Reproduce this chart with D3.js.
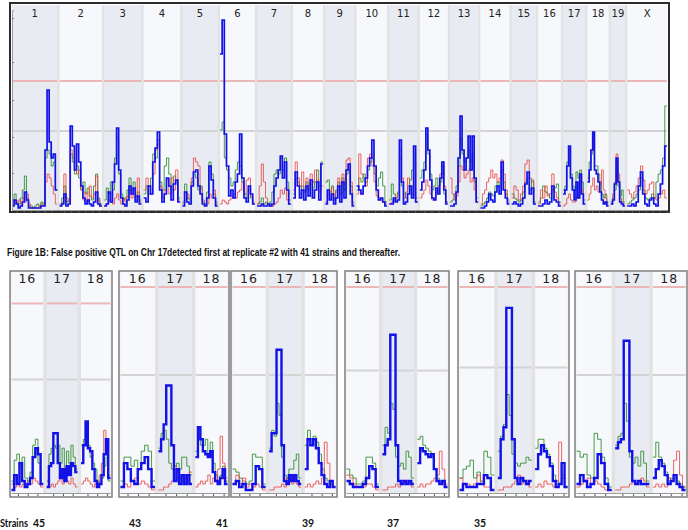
<!DOCTYPE html>
<html>
<head>
<meta charset="utf-8">
<script src="https://cdn.jsdelivr.net/npm/d3@7"></script>
<style>
  body { margin: 0; background: #fff; }
  svg { display: block; }
</style>
</head>
<body>
<script>
// ---- data ----
const chroms = ['1','2','3','4','5','6','7','8','9','10','11','12','13','14','15','16','17','18','19','X'];
const chromMb = [195,182,160,157,152,150,145,129,125,131,122,120,121,125,104,98,95,91,61,171];
const tickMb = [20,50,80,110,140,170];

// genome scan thresholds (LOD) and left axis ticks
const topSug = 3.95, topSig = 6.45;
const topYTicks = [1.85,3.65,5.5,7.4,9.6];

// LOD values, one step per bin, bins spread evenly along each chromosome
const topBlue = [
  [0.2,0.5,0.3,0.1,0.2,0.4,0.9,0.5,0.1,0.1,0.1,0.1,0.1,0.1,0.2,0.2,3.0,6.0,3.4,2.6,2.8,1.0],
  [0.2,0.3,0.8,0.2,0.3,4.2,3.2,2.0,3.3,2.4,1.2,0.6,0.3,0.5,0.3,0.2,0.4,0.9,0.3,0.2],
  [0.2,0.3,0.9,0.4,1.4,2.3,4.1,2.0,0.6,0.3,0.2,0.5,1.2,0.8,1.1,0.4,0.7,0.3],
  [0.6,0.4,1.2,0.8,2.4,3.1,3.9,1.0,0.4,0.8,1.6,1.2,0.5,1.3,1.5,0.4],
  [0.2,0.9,0.4,0.3,1.2,1.9,2.0,1.2,0.8,0.3,0.2,0.6,2.2,1.5,0.6,0.2],
  [7.8,9.5,3.8,2.2,0.7,1.0,0.6,1.4,1.8,3.8,1.6,0.6,0.4,1.2,0.8,0.3],
  [0.2,0.2,0.3,0.2,0.2,0.3,0.2,0.3,1.2,1.6,2.0,2.7,1.6,2.4,1.0,0.3],
  [0.6,1.9,1.2,0.6,1.0,0.5,1.2,0.7,1.5,0.6,1.0,1.4,0.5,2.3],
  [0.3,1.0,0.5,0.8,0.3,0.6,1.2,0.4,1.4,0.6,2.0,2.3,0.8,0.2],
  [1.2,1.0,0.8,1.2,1.6,2.2,2.6,3.5,2.2,1.0,0.5,0.6,0.4,0.2],
  [0.3,0.3,0.6,0.4,0.5,3.5,1.4,0.3,0.4,0.8,1.2,0.6,3.2,0.4],
  [1.0,1.4,2.0,4.1,3.0,1.5,0.6,0.5,1.1,0.8,1.6,2.4,1.0,0.3],
  [0.2,0.2,0.3,0.9,2.6,4.7,3.0,2.0,2.6,3.7,2.0,3.7,1.6,0.4],
  [0.1,0.1,0.2,0.4,0.8,0.5,0.4,0.9,1.2,0.8,2.4,1.0,0.6,0.3],
  [0.3,0.4,0.3,0.2,0.3,0.6,1.3,1.9,0.8,1.1,0.3],
  [0.2,0.2,0.3,0.5,0.3,0.4,1.2,0.5,0.4,0.2],
  [0.8,1.0,2.2,3.2,1.6,1.0,0.5,1.4,0.6,1.8,0.8,0.3],
  [1.4,2.0,3.0,3.9,2.0,1.8,1.4,0.9,0.5,0.3,0.4,0.2],
  [0.3,0.5,1.3,2.6,1.4,0.4,0.3,0.2],
  [0.2,0.2,0.3,0.2,0.4,1.2,1.9,0.8,0.3,0.2,0.5,0.6,0.3,0.2,0.8,1.3,2.2,3.2]
];
const topGreen = [
  [0.5,0.8,0.4,0.3,0.6,1.0,1.7,0.6,0.2,0.2,0.1,0.2,0.3,0.2,0.4,0.3,2.6,3.0,2.8,2.2,2.4,1.0],
  [0.3,0.6,1.2,0.4,0.5,2.8,2.4,1.8,2.2,1.6,1.0,1.4,0.8,1.1,0.7,0.5,1.2,1.8,0.6,0.3],
  [0.5,1.1,0.8,1.4,1.0,2.6,3.6,1.8,0.8,0.5,0.6,1.0,1.6,1.0,1.4,0.7,0.9,0.5],
  [0.8,1.2,0.8,1.6,2.8,2.6,3.5,1.4,1.0,2.2,2.6,1.8,1.0,1.7,1.4,0.6],
  [0.4,1.3,0.6,0.5,1.4,1.8,1.6,1.0,1.2,0.4,0.3,0.9,2.4,1.8,0.8,0.3],
  [4.0,4.4,2.6,2.0,1.6,1.2,1.4,2.0,2.4,2.2,1.4,0.8,0.6,1.0,0.6,0.3],
  [0.3,0.4,0.6,0.3,0.4,0.3,0.4,0.9,1.8,2.0,1.8,2.6,2.0,2.6,1.4,0.5],
  [0.8,1.6,1.4,0.8,1.2,0.9,1.4,1.0,1.3,1.1,1.4,2.0,1.2,2.4],
  [1.4,1.5,0.9,1.2,0.6,1.0,1.4,0.8,1.6,1.0,1.8,2.0,1.2,0.4],
  [1.0,1.6,1.4,1.8,1.4,2.0,2.4,2.6,1.8,1.2,1.6,1.9,1.2,0.4],
  [0.5,1.3,0.8,0.6,0.9,2.6,1.2,0.6,0.9,1.2,1.5,2.0,2.8,0.6],
  [1.6,2.0,2.4,3.8,2.8,1.8,1.0,1.2,1.6,1.2,1.4,2.2,0.8,0.4],
  [0.4,0.5,0.8,1.2,2.2,3.6,2.8,2.4,2.6,3.0,2.4,2.8,1.4,0.6],
  [0.2,0.3,0.4,0.6,0.9,0.8,0.7,1.2,1.4,1.2,2.0,1.4,0.8,0.4],
  [0.8,0.6,0.5,0.4,0.5,0.9,1.4,1.6,1.0,1.5,0.4],
  [0.4,0.6,1.2,0.9,0.8,0.6,1.0,1.1,1.3,0.4],
  [1.0,1.2,2.4,3.0,1.8,1.2,1.0,1.9,1.6,2.0,1.4,0.5],
  [1.6,2.4,2.8,3.6,2.2,2.2,1.8,1.4,0.8,0.6,0.8,0.4],
  [0.4,0.6,1.0,2.2,1.2,0.7,1.0,0.4],
  [0.3,0.4,0.5,0.6,0.8,1.0,1.6,1.0,0.6,0.5,0.6,0.8,0.6,1.4,1.8,2.0,2.6,5.2]
];
const topRed = [
  [0.3,0.3,0.4,0.5,0.3,0.6,0.4,0.8,0.3,0.1,0.1,0.1,0.1,0.2,0.3,0.2,1.4,1.8,1.6,1.2,0.8,0.3],
  [0.2,0.4,1.8,0.6,0.4,3.0,2.6,2.4,1.8,2.0,1.0,0.5,0.9,0.4,1.2,0.6,0.8,1.7,0.5,0.2],
  [0.2,0.3,0.5,0.4,0.3,0.6,0.8,0.5,0.3,0.6,0.4,0.7,1.0,0.6,0.8,0.5,1.6,0.4],
  [1.0,1.6,1.2,0.8,1.8,3.0,3.3,1.2,0.6,1.0,1.5,0.8,1.6,1.0,2.0,0.5],
  [0.3,0.5,0.8,0.6,1.6,2.6,2.4,2.2,1.1,0.5,0.2,0.3,0.8,0.6,1.0,0.4],
  [0.3,0.5,0.4,0.3,0.5,0.6,0.8,0.6,0.9,1.0,1.4,0.8,1.5,1.6,0.7,0.4],
  [0.3,1.2,2.3,1.4,0.6,0.3,0.2,0.2,0.3,0.4,0.6,1.0,0.8,1.1,0.5,0.3],
  [1.0,2.4,1.6,1.2,1.9,1.0,1.6,1.2,1.8,1.4,2.0,1.5,0.9,1.2],
  [0.4,0.8,0.6,1.1,0.5,0.9,1.6,1.2,1.8,1.3,2.5,2.6,1.4,0.3],
  [0.8,2.8,1.8,1.6,1.2,2.6,2.8,2.2,1.4,0.7,0.6,0.5,0.4,0.3],
  [0.3,0.4,0.5,0.6,0.8,3.0,1.6,0.8,0.6,1.6,1.0,0.8,2.4,0.4],
  [0.6,0.8,1.0,1.5,1.2,0.8,0.5,0.6,0.9,1.2,1.8,2.4,1.2,0.4],
  [1.6,0.8,0.5,0.7,1.4,2.2,2.0,1.6,1.8,2.0,1.4,1.6,1.0,0.4],
  [0.3,0.8,1.0,1.4,1.6,2.0,1.6,1.8,1.4,1.6,2.5,1.8,1.0,0.5],
  [0.6,1.2,1.0,0.5,0.8,1.2,2.3,2.5,1.6,1.4,0.3],
  [0.3,1.0,0.6,1.2,0.7,0.8,1.8,0.9,0.6,0.3],
  [0.2,0.3,0.6,0.8,0.5,0.4,0.4,0.7,0.6,0.9,1.0,0.3],
  [0.5,0.8,1.2,1.6,1.0,1.2,0.9,1.3,2.0,1.0,0.6,0.3],
  [0.3,0.8,1.4,2.8,1.8,0.6,0.4,0.3],
  [1.0,0.8,0.6,0.9,1.2,1.6,2.2,1.5,0.8,1.0,1.3,1.4,0.6,0.5,0.6,0.8,1.0,0.6]
];

// replicate panels: chromosomes 16-18
const panelChroms = ['16','17','18'];
const panelMb = [98,95,91];
const strains = [45,43,41,39,37,35];
const panelSug = [3.8,3.95,3.95,4.1,4.2,3.95];
const panelSig = [6.35,6.9,6.9,6.9,6.9,6.9];

const panelBlue = [
  [[0.1,0.6,0.3,1.0,0.4,0.2,0.3,0.5,1.2,1.5,1.3,0.3],
   [0.2,0.9,1.0,2.0,2.0,1.0,0.5,0.8,0.4,0.9,0.6,1.0,0.9,0.7],
   [1.0,1.6,2.4,1.5,1.4,0.8,0.4,0.2,0.3,0.6,1.3,1.8,0.5]],
  [[0.2,1.0,0.8,0.4,0.3,0.8,1.0,1.2,0.8,0.2],
   [1.4,1.8,2.3,3.6,3.6,1.6,0.4,0.8,0.3,0.6,0.3,0.6,0.3],
   [1.2,2.2,1.8,1.4,1.3,1.2,1.4,0.7,0.4,0.3,0.5,0.8,0.3]],
  [[0.3,0.4,0.2,0.3,0.1,0.1,0.3,0.9,0.8,0.2],
   [1.4,2.0,2.0,4.8,4.8,1.6,0.4,0.3,0.6,0.4,0.6,0.4,0.3],
   [0.8,1.8,1.6,1.8,1.5,1.0,0.6,0.3,0.2,0.4,0.2]],
  [[0.4,0.3,0.2,0.2,0.2,0.3,0.5,0.9,0.8,0.2],
   [1.3,1.6,1.8,5.3,5.3,1.6,0.4,0.3,0.4,0.3,0.4,0.3],
   [1.0,1.5,1.4,1.3,1.2,1.3,0.8,0.4,0.3,0.4,0.2]],
  [[0.1,0.3,0.2,0.2,0.2,0.3,0.3,0.6,0.5,0.1],
   [0.5,1.8,2.2,6.2,6.2,1.8,0.5,0.3,0.5,0.4,0.3,0.4],
   [0.8,1.3,1.6,1.4,1.2,0.9,0.4,0.2,0.3,1.0,0.2]],
  [[0.3,0.6,0.4,0.2,0.3,0.5,1.3,1.0,0.3,0.1],
   [1.5,1.7,1.8,5.1,5.1,1.4,0.4,0.3,0.4,0.3,0.3,0.3],
   [0.5,0.8,1.1,0.9,0.6,0.3,0.4,0.6,0.3,0.2,0.1]]
];
const panelGreen = [
  [[0.4,1.1,1.3,0.9,1.2,0.5,0.4,0.7,1.6,1.8,1.0,0.3],
   [0.4,1.3,1.5,1.6,1.5,1.6,1.0,1.5,0.8,1.4,1.0,1.6,1.2,0.8],
   [1.6,1.8,2.0,1.6,1.2,1.0,0.8,0.4,0.3,0.5,0.9,1.2,0.4]],
  [[0.4,1.2,1.2,0.9,1.1,0.8,1.4,1.6,1.4,0.4],
   [1.5,2.0,2.1,1.8,1.0,0.8,0.9,1.0,0.8,1.2,1.2,0.9,0.6],
   [1.4,2.0,1.6,1.6,1.8,1.2,1.7,1.0,0.6,0.4,0.6,0.9,0.4]],
  [[0.8,0.7,0.5,0.4,0.3,0.4,1.3,1.2,1.2,0.3],
   [1.5,2.1,1.9,3.0,2.6,1.2,0.6,0.5,0.8,0.8,1.1,1.3,0.5],
   [1.6,2.1,1.8,1.9,1.7,1.3,0.8,0.5,0.4,0.3,0.2]],
  [[0.8,0.6,0.5,0.3,0.3,0.4,1.2,1.2,1.0,0.3],
   [1.6,2.2,2.0,3.0,2.8,1.2,0.9,1.0,0.8,1.4,1.2,0.5],
   [1.8,1.9,1.6,1.5,1.4,1.2,0.8,0.5,0.4,0.3,0.2]],
  [[0.5,0.8,0.9,1.1,0.5,0.7,0.4,1.4,1.2,0.6],
   [1.4,1.9,2.3,3.3,2.6,1.3,1.0,0.9,1.0,1.0,1.2,1.1],
   [1.5,1.8,1.8,1.5,1.3,1.0,0.6,0.4,0.3,0.5,0.2]],
  [[1.4,1.2,1.3,0.6,0.5,2.0,1.8,1.2,0.5,0.2],
   [1.6,1.9,2.0,3.0,2.4,1.2,1.0,1.2,0.9,1.4,1.0,0.4],
   [1.2,1.7,1.2,1.0,0.7,0.5,0.4,0.5,0.4,0.3,0.2]]
];
const panelRed = [
  [[0.3,0.2,0.3,0.2,0.3,0.2,0.4,0.3,0.5,0.4,0.3,0.2],
   [0.2,0.2,0.3,0.2,0.3,0.4,0.6,0.3,0.5,0.4,0.3,0.5,0.3,0.2],
   [0.3,0.4,0.5,0.4,0.3,0.2,0.3,0.2,0.6,1.0,2.1,1.5,0.6]],
  [[0.2,0.3,0.2,0.4,0.5,0.3,0.4,0.3,0.2,0.1],
   [0.1,0.1,0.2,0.2,0.3,0.4,0.9,0.7,0.5,0.4,0.6,0.4,0.7],
   [0.2,0.3,0.4,0.3,0.4,0.6,0.3,0.5,0.4,0.8,1.9,1.0,0.5]],
  [[0.3,0.6,0.3,0.5,0.2,0.3,0.2,0.3,0.2,0.1],
   [0.1,0.1,0.2,0.2,0.2,0.3,0.2,0.5,0.4,0.3,0.4,0.3,0.2],
   [0.2,0.3,0.2,0.3,0.4,0.3,0.5,1.7,1.0,0.4,0.2]],
  [[0.6,0.5,0.3,0.2,0.2,0.2,0.3,0.3,0.2,0.1],
   [0.1,0.1,0.2,0.2,0.2,0.3,0.2,0.4,0.3,0.3,0.4,0.2],
   [0.2,0.3,0.2,0.3,0.3,0.4,0.5,0.6,1.4,0.8,0.3]],
  [[0.5,0.3,0.3,0.2,0.3,0.6,0.3,0.2,0.2,0.1],
   [0.1,0.1,0.2,0.2,0.2,0.3,0.4,0.6,0.3,0.4,0.3,0.2],
   [0.2,0.3,0.2,0.4,0.3,0.3,0.2,0.4,1.7,0.6,0.2]],
  [[0.2,0.3,0.4,0.5,0.3,0.4,0.3,0.2,0.1,0.1],
   [0.1,0.1,0.2,0.2,0.2,0.3,0.4,0.3,0.3,0.5,0.4,0.2],
   [0.2,0.3,0.2,0.3,0.2,0.3,0.5,1.1,1.4,0.6,0.2]]
];

const caption = 'Figure 1B: False positive QTL on Chr 17detected first at replicate #2 with 41 strains and thereafter.';

// ---- layout ----
const W = 688, H = 530;
const colShade = '#e9ebf3', colLight = '#f7f8fc', colGap = '#e2e2e2';
const cBlue = '#1212e8', cGreen = '#2a8a2a', cRed = '#e8403c';

const svg = d3.select('body').append('svg')
  .attr('width', W).attr('height', H)
  .style('font-family', 'DejaVu Sans, Verdana, sans-serif');

function drawScan(g, cfg) {
  const total = d3.sum(cfg.lens);
  const avail = cfg.x1 - cfg.x0 - cfg.gap * (cfg.lens.length - 1);
  const mb = d3.scaleLinear().domain([0, total]).range([0, avail]);

  g.append('rect')
    .attr('x', cfg.x0).attr('y', cfg.yTop)
    .attr('width', cfg.x1 - cfg.x0).attr('height', cfg.y(0) - cfg.yTop)
    .attr('fill', colGap);

  let cum = 0;
  cfg.lens.forEach((len, i) => {
    const left = cfg.x0 + mb(cum) + i * cfg.gap;
    cum += len;
    const xs = d3.scaleLinear().domain([0, len]).range([left, left + mb(len)]);
    const col = g.append('g');

    col.append('rect')
      .attr('x', left).attr('y', cfg.yTop)
      .attr('width', mb(len)).attr('height', cfg.y(0) - cfg.yTop)
      .attr('fill', i % 2 === cfg.shadeParity ? colShade : colLight);

    // threshold lines
    [[cfg.sig, '#ebb7b7'], [cfg.sug, '#d4d4d4']].forEach(([v, c]) => {
      col.append('line')
        .attr('x1', left).attr('x2', left + mb(len))
        .attr('y1', cfg.y(v)).attr('y2', cfg.y(v))
        .attr('stroke', c).attr('stroke-width', 2);
    });

    col.append('text')
      .text(cfg.names[i])
      .attr('x', left + mb(len) / 2).attr('y', cfg.labelY)
      .attr('text-anchor', 'middle')
      .attr('font-size', cfg.labelSize)
      .attr('letter-spacing', cfg.labelSpacing || 0)
      .attr('fill', '#222');

    const line = d3.line()
      .x(d => xs(d[0])).y(d => cfg.y(d[1]))
      .curve(d3.curveStepAfter);
    function pts(vals) {
      const step = len / vals.length;
      const p = vals.map((v, k) => [k * step, v]);
      p.push([len, vals[vals.length - 1]]);
      return p;
    }

    col.append('path').attr('d', line(pts(cfg.green[i])))
      .attr('fill', 'none').attr('stroke', cGreen).attr('stroke-width', 1).attr('opacity', 0.85);
    col.append('path').attr('d', line(pts(cfg.red[i])))
      .attr('fill', 'none').attr('stroke', cRed).attr('stroke-width', 1).attr('opacity', 0.8);
    col.append('path').attr('d', line(pts(cfg.blue[i])))
      .attr('fill', 'none').attr('stroke', cBlue).attr('stroke-width', cfg.blueW);

    // position ticks along the bottom
    col.append('g')
      .attr('transform', 'translate(0,' + cfg.y(0) + ')')
      .call(d3.axisBottom(xs).tickValues(tickMb.filter(t => t < len)).tickSize(3).tickFormat(''))
      .call(a => a.select('.domain').remove())
      .selectAll('line').attr('stroke', '#555');
  });

  g.append('line')
    .attr('x1', cfg.x0).attr('x2', cfg.x1)
    .attr('y1', cfg.y(0) + 0.5).attr('y2', cfg.y(0) + 0.5)
    .attr('stroke', '#999').attr('stroke-width', 1);
}

// ---- top genome scan ----
const topY = d3.scaleLinear().domain([0, 10]).range([210, 10]);
const topG = svg.append('g');
topG.append('rect')
  .attr('x', 10).attr('y', 3).attr('width', 659).attr('height', 209)
  .attr('fill', '#fff').attr('stroke', '#2b2b2b').attr('stroke-width', 2);

drawScan(topG, {
  x0: 12, x1: 667, yTop: 5, y: topY, gap: 2.2,
  names: chroms, lens: chromMb, shadeParity: 0,
  blue: topBlue, green: topGreen, red: topRed,
  sug: topSug, sig: topSig,
  labelY: 17, labelSize: 10, blueW: 1.7
});

topG.append('g')
  .attr('transform', 'translate(12,0)')
  .call(d3.axisRight(topY).tickValues(topYTicks).tickSize(2).tickFormat(''))
  .call(a => a.select('.domain').attr('stroke', '#9a9aa8'))
  .selectAll('line').attr('stroke', '#777');

// ---- caption ----
svg.append('text')
  .text(caption)
  .attr('x', 7).attr('y', 256)
  .attr('font-family', 'Liberation Sans Narrow, Liberation Sans, Arial, sans-serif')
  .attr('font-weight', 'bold')
  .attr('font-size', 11.5)
  .attr('textLength', 393)
  .attr('lengthAdjust', 'spacingAndGlyphs')
  .attr('fill', '#111');

// ---- replicate panels ----
const panelLeft = [10, 119, 231, 345, 458, 575];
const panelW = [102, 110, 106, 104, 111, 112];
const panelY = d3.scaleLinear().domain([0, 7]).range([493, 284]);

strains.forEach((s, p) => {
  const g = svg.append('g');
  g.append('rect')
    .attr('x', panelLeft[p]).attr('y', 271)
    .attr('width', panelW[p]).attr('height', 226)
    .attr('fill', '#fff').attr('stroke', '#7d7d7d').attr('stroke-width', 1.5);
  drawScan(g, {
    x0: panelLeft[p] + 1.5, x1: panelLeft[p] + panelW[p] - 1.5, yTop: 272, y: panelY, gap: 3.5,
    names: panelChroms, lens: panelMb, shadeParity: 1,
    blue: panelBlue[p], green: panelGreen[p], red: panelRed[p],
    sug: panelSug[p], sig: panelSig[p],
    labelY: 283, labelSize: 12.5, labelSpacing: 1, blueW: 2.4
  });
});

// ---- strain counts ----
const strainLabelX = [39, 135, 222, 308, 393, 480];
svg.append('text')
  .text('Strains')
  .attr('x', 0).attr('y', 527)
  .attr('font-family', 'Lato, Open Sans, sans-serif')
  .attr('font-weight', 'bold').attr('font-size', 10.5)
  .attr('textLength', 28).attr('lengthAdjust', 'spacingAndGlyphs')
  .attr('fill', '#111');
svg.selectAll('.strainN')
  .data(strains)
  .enter().append('text')
  .attr('class', 'strainN')
  .text(d => d)
  .attr('x', (d, i) => strainLabelX[i]).attr('y', 527)
  .attr('text-anchor', 'middle')
  .attr('font-family', 'Lato, Open Sans, sans-serif')
  .attr('font-weight', 'bold').attr('font-size', 10.5).attr('fill', '#111');
</script>
</body>
</html>
